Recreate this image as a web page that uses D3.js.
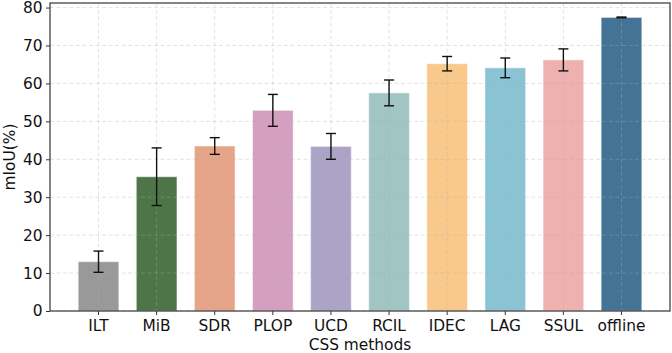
<!DOCTYPE html>
<html>
<head>
<meta charset="utf-8">
<script src="https://cdn.jsdelivr.net/npm/d3@7"></script>
<style>
  body { margin: 0; background: #fff; }
  svg text { font-family: "DejaVu Sans", sans-serif; fill: #111; }
</style>
</head>
<body>
<svg width="672" height="353"></svg>
<script>
const methods = ['ILT', 'MiB', 'SDR', 'PLOP', 'UCD', 'RCIL', 'IDEC', 'LAG', 'SSUL', 'offline']
const miou = [13.0, 35.4, 43.5, 52.9, 43.4, 57.5, 65.2, 64.1, 66.2, 77.4]
const errs = [2.8, 7.6, 2.2, 4.2, 3.4, 3.4, 1.9, 2.6, 2.9, 0.1]
const colors = ['#999999', '#4e7548', '#e6a588', '#d59fc0', '#aca4c6', '#a0c5c2', '#f9c98b', '#8ac4d4', '#efb0b0', '#447396']
const yTicks = [0, 10, 20, 30, 40, 50, 60, 70, 80]

const svg = d3.select('svg')
const margin = { top: 3, right: 2, bottom: 42, left: 50 }
const width = +svg.attr('width')
const height = +svg.attr('height')
const plotW = width - margin.left - margin.right
const plotH = height - margin.top - margin.bottom

const data = methods.map((m, i) => ({ method: m, value: miou[i], err: errs[i], color: colors[i] }))

const x = d3.scaleBand()
	.domain(methods)
	.range([0, plotW])
	.paddingInner(0.3)
	.paddingOuter(0.485)

const y = d3.scaleLinear()
	.domain([0, 81.2])
	.range([plotH, 0])

const g = svg.append('g').attr('transform', `translate(${margin.left},${margin.top})`)

// bars
g.selectAll('.bar')
	.data(data)
	.enter()
	.append('rect')
	.attr('class', 'bar')
	.attr('x', d => x(d.method))
	.attr('y', d => y(d.value))
	.attr('width', x.bandwidth())
	.attr('height', d => y(0) - y(d.value))
	.attr('fill', d => d.color)
	.attr('stroke', '#ffffff')
	.attr('stroke-opacity', 0.5)
	.attr('stroke-width', 1)

// grid on top, faint dashed
const grid = g.append('g').attr('class', 'grid')
grid.selectAll('.hgrid')
	.data(yTicks)
	.enter()
	.append('line')
	.attr('x1', 0).attr('x2', plotW)
	.attr('y1', d => y(d)).attr('y2', d => y(d))
	.attr('stroke', '#b0b0b0')
	.attr('stroke-opacity', 0.35)
	.attr('stroke-dasharray', '4,2.5')
grid.selectAll('.vgrid')
	.data(methods)
	.enter()
	.append('line')
	.attr('x1', d => x(d) + x.bandwidth() / 2).attr('x2', d => x(d) + x.bandwidth() / 2)
	.attr('y1', 0).attr('y2', plotH)
	.attr('stroke', '#b0b0b0')
	.attr('stroke-opacity', 0.35)
	.attr('stroke-dasharray', '4,2.5')

// error bars
const eb = g.selectAll('.err')
	.data(data)
	.enter()
	.append('g')
	.attr('class', 'err')
	.attr('transform', d => `translate(${x(d.method) + x.bandwidth() / 2},0)`)
	.attr('stroke', '#111')
	.attr('stroke-width', 1.4)
eb.append('line')
	.attr('y1', d => y(d.value - d.err)).attr('y2', d => y(d.value + d.err))
eb.append('line')
	.attr('x1', -5).attr('x2', 5)
	.attr('y1', d => y(d.value - d.err)).attr('y2', d => y(d.value - d.err))
eb.append('line')
	.attr('x1', -5).attr('x2', 5)
	.attr('y1', d => y(d.value + d.err)).attr('y2', d => y(d.value + d.err))

// axes
const xAxis = g.append('g')
	.attr('transform', `translate(0,${plotH})`)
	.call(d3.axisBottom(x).tickSize(4).tickPadding(5.5))
const yAxis = g.append('g')
	.call(d3.axisLeft(y).tickValues(yTicks).tickSize(4).tickPadding(3.5))

;[xAxis, yAxis].forEach(a => {
	a.selectAll('text').style('font-size', '15.4px').attr('fill', '#111')
	a.selectAll('line').attr('stroke', '#333')
	a.select('.domain').remove()
})

// frame
g.append('rect')
	.attr('width', plotW)
	.attr('height', plotH)
	.attr('fill', 'none')
	.attr('stroke', '#444')
	.attr('stroke-width', 1.3)

svg.append('text')
	.attr('x', margin.left + plotW / 2)
	.attr('y', 349.5)
	.attr('text-anchor', 'middle')
	.style('font-size', '15.4px')
	.text('CSS methods')

svg.append('text')
	.attr('transform', `translate(14.5,${margin.top + plotH / 2}) rotate(-90)`)
	.attr('text-anchor', 'middle')
	.style('font-size', '15.4px')
	.text('mIoU(%)')
</script>
</body>
</html>
